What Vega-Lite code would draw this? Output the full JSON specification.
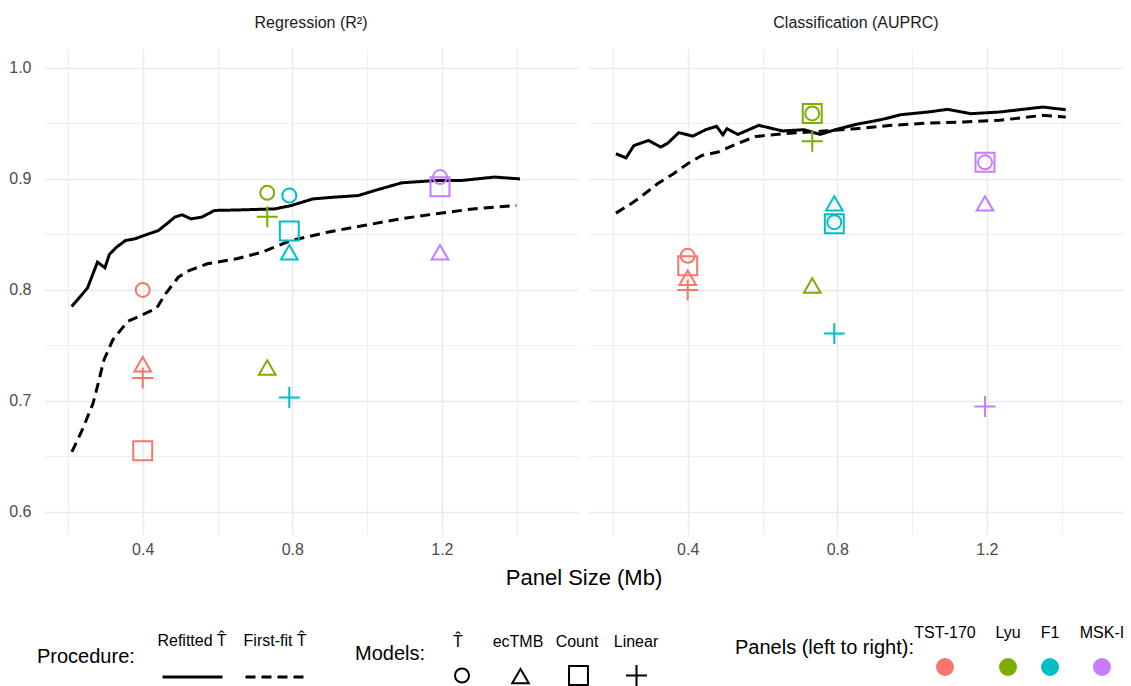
{
  "$schema": "https://vega.github.io/schema/vega-lite/v6.json",
  "padding": {"left": 8, "top": 15, "right": 8, "bottom": 2},
  "data": {"values": [
    {"task":"Regression (R²)","kind":"line","procedure":"Refitted T̂","x":0.21,"y":0.785},
    {"task":"Regression (R²)","kind":"line","procedure":"Refitted T̂","x":0.252,"y":0.8015},
    {"task":"Regression (R²)","kind":"line","procedure":"Refitted T̂","x":0.279,"y":0.825},
    {"task":"Regression (R²)","kind":"line","procedure":"Refitted T̂","x":0.299,"y":0.82},
    {"task":"Regression (R²)","kind":"line","procedure":"Refitted T̂","x":0.311,"y":0.832},
    {"task":"Regression (R²)","kind":"line","procedure":"Refitted T̂","x":0.33,"y":0.8385},
    {"task":"Regression (R²)","kind":"line","procedure":"Refitted T̂","x":0.354,"y":0.8445},
    {"task":"Regression (R²)","kind":"line","procedure":"Refitted T̂","x":0.379,"y":0.846},
    {"task":"Regression (R²)","kind":"line","procedure":"Refitted T̂","x":0.403,"y":0.849},
    {"task":"Regression (R²)","kind":"line","procedure":"Refitted T̂","x":0.442,"y":0.8535},
    {"task":"Regression (R²)","kind":"line","procedure":"Refitted T̂","x":0.466,"y":0.86},
    {"task":"Regression (R²)","kind":"line","procedure":"Refitted T̂","x":0.486,"y":0.8656},
    {"task":"Regression (R²)","kind":"line","procedure":"Refitted T̂","x":0.505,"y":0.8677},
    {"task":"Regression (R²)","kind":"line","procedure":"Refitted T̂","x":0.529,"y":0.864},
    {"task":"Regression (R²)","kind":"line","procedure":"Refitted T̂","x":0.558,"y":0.8656},
    {"task":"Regression (R²)","kind":"line","procedure":"Refitted T̂","x":0.592,"y":0.8716},
    {"task":"Regression (R²)","kind":"line","procedure":"Refitted T̂","x":0.651,"y":0.872},
    {"task":"Regression (R²)","kind":"line","procedure":"Refitted T̂","x":0.753,"y":0.873},
    {"task":"Regression (R²)","kind":"line","procedure":"Refitted T̂","x":0.797,"y":0.876},
    {"task":"Regression (R²)","kind":"line","procedure":"Refitted T̂","x":0.855,"y":0.882},
    {"task":"Regression (R²)","kind":"line","procedure":"Refitted T̂","x":0.913,"y":0.8836},
    {"task":"Regression (R²)","kind":"line","procedure":"Refitted T̂","x":0.976,"y":0.885},
    {"task":"Regression (R²)","kind":"line","procedure":"Refitted T̂","x":1.03,"y":0.8905},
    {"task":"Regression (R²)","kind":"line","procedure":"Refitted T̂","x":1.093,"y":0.8965},
    {"task":"Regression (R²)","kind":"line","procedure":"Refitted T̂","x":1.185,"y":0.8986},
    {"task":"Regression (R²)","kind":"line","procedure":"Refitted T̂","x":1.253,"y":0.8986},
    {"task":"Regression (R²)","kind":"line","procedure":"Refitted T̂","x":1.341,"y":0.9017},
    {"task":"Regression (R²)","kind":"line","procedure":"Refitted T̂","x":1.409,"y":0.9},
    {"task":"Regression (R²)","kind":"line","procedure":"First-fit T̂","x":0.2105,"y":0.654},
    {"task":"Regression (R²)","kind":"line","procedure":"First-fit T̂","x":0.238,"y":0.6735},
    {"task":"Regression (R²)","kind":"line","procedure":"First-fit T̂","x":0.267,"y":0.6976},
    {"task":"Regression (R²)","kind":"line","procedure":"First-fit T̂","x":0.281,"y":0.7157},
    {"task":"Regression (R²)","kind":"line","procedure":"First-fit T̂","x":0.296,"y":0.7367},
    {"task":"Regression (R²)","kind":"line","procedure":"First-fit T̂","x":0.32,"y":0.755},
    {"task":"Regression (R²)","kind":"line","procedure":"First-fit T̂","x":0.359,"y":0.7714},
    {"task":"Regression (R²)","kind":"line","procedure":"First-fit T̂","x":0.398,"y":0.7774},
    {"task":"Regression (R²)","kind":"line","procedure":"First-fit T̂","x":0.437,"y":0.7834},
    {"task":"Regression (R²)","kind":"line","procedure":"First-fit T̂","x":0.461,"y":0.7964},
    {"task":"Regression (R²)","kind":"line","procedure":"First-fit T̂","x":0.495,"y":0.8114},
    {"task":"Regression (R²)","kind":"line","procedure":"First-fit T̂","x":0.524,"y":0.8174},
    {"task":"Regression (R²)","kind":"line","procedure":"First-fit T̂","x":0.573,"y":0.8235},
    {"task":"Regression (R²)","kind":"line","procedure":"First-fit T̂","x":0.651,"y":0.828},
    {"task":"Regression (R²)","kind":"line","procedure":"First-fit T̂","x":0.719,"y":0.834},
    {"task":"Regression (R²)","kind":"line","procedure":"First-fit T̂","x":0.797,"y":0.8445},
    {"task":"Regression (R²)","kind":"line","procedure":"First-fit T̂","x":0.894,"y":0.852},
    {"task":"Regression (R²)","kind":"line","procedure":"First-fit T̂","x":0.991,"y":0.858},
    {"task":"Regression (R²)","kind":"line","procedure":"First-fit T̂","x":1.088,"y":0.864},
    {"task":"Regression (R²)","kind":"line","procedure":"First-fit T̂","x":1.185,"y":0.8686},
    {"task":"Regression (R²)","kind":"line","procedure":"First-fit T̂","x":1.283,"y":0.873},
    {"task":"Regression (R²)","kind":"line","procedure":"First-fit T̂","x":1.399,"y":0.876},
    {"task":"Classification (AUPRC)","kind":"line","procedure":"Refitted T̂","x":0.208,"y":0.9227},
    {"task":"Classification (AUPRC)","kind":"line","procedure":"Refitted T̂","x":0.235,"y":0.919},
    {"task":"Classification (AUPRC)","kind":"line","procedure":"Refitted T̂","x":0.256,"y":0.93},
    {"task":"Classification (AUPRC)","kind":"line","procedure":"Refitted T̂","x":0.295,"y":0.9347},
    {"task":"Classification (AUPRC)","kind":"line","procedure":"Refitted T̂","x":0.328,"y":0.9287},
    {"task":"Classification (AUPRC)","kind":"line","procedure":"Refitted T̂","x":0.347,"y":0.9323},
    {"task":"Classification (AUPRC)","kind":"line","procedure":"Refitted T̂","x":0.376,"y":0.9417},
    {"task":"Classification (AUPRC)","kind":"line","procedure":"Refitted T̂","x":0.414,"y":0.9386},
    {"task":"Classification (AUPRC)","kind":"line","procedure":"Refitted T̂","x":0.448,"y":0.9444},
    {"task":"Classification (AUPRC)","kind":"line","procedure":"Refitted T̂","x":0.477,"y":0.9474},
    {"task":"Classification (AUPRC)","kind":"line","procedure":"Refitted T̂","x":0.494,"y":0.9398},
    {"task":"Classification (AUPRC)","kind":"line","procedure":"Refitted T̂","x":0.505,"y":0.9453},
    {"task":"Classification (AUPRC)","kind":"line","procedure":"Refitted T̂","x":0.534,"y":0.9401},
    {"task":"Classification (AUPRC)","kind":"line","procedure":"Refitted T̂","x":0.59,"y":0.9483},
    {"task":"Classification (AUPRC)","kind":"line","procedure":"Refitted T̂","x":0.654,"y":0.9432},
    {"task":"Classification (AUPRC)","kind":"line","procedure":"Refitted T̂","x":0.711,"y":0.9444},
    {"task":"Classification (AUPRC)","kind":"line","procedure":"Refitted T̂","x":0.754,"y":0.9401},
    {"task":"Classification (AUPRC)","kind":"line","procedure":"Refitted T̂","x":0.798,"y":0.9447},
    {"task":"Classification (AUPRC)","kind":"line","procedure":"Refitted T̂","x":0.85,"y":0.9492},
    {"task":"Classification (AUPRC)","kind":"line","procedure":"Refitted T̂","x":0.917,"y":0.9534},
    {"task":"Classification (AUPRC)","kind":"line","procedure":"Refitted T̂","x":0.97,"y":0.9579},
    {"task":"Classification (AUPRC)","kind":"line","procedure":"Refitted T̂","x":1.042,"y":0.9603},
    {"task":"Classification (AUPRC)","kind":"line","procedure":"Refitted T̂","x":1.095,"y":0.9627},
    {"task":"Classification (AUPRC)","kind":"line","procedure":"Refitted T̂","x":1.157,"y":0.9588},
    {"task":"Classification (AUPRC)","kind":"line","procedure":"Refitted T̂","x":1.234,"y":0.9603},
    {"task":"Classification (AUPRC)","kind":"line","procedure":"Refitted T̂","x":1.349,"y":0.9648},
    {"task":"Classification (AUPRC)","kind":"line","procedure":"Refitted T̂","x":1.411,"y":0.9624},
    {"task":"Classification (AUPRC)","kind":"line","procedure":"First-fit T̂","x":0.208,"y":0.8692},
    {"task":"Classification (AUPRC)","kind":"line","procedure":"First-fit T̂","x":0.251,"y":0.8782},
    {"task":"Classification (AUPRC)","kind":"line","procedure":"First-fit T̂","x":0.285,"y":0.8866},
    {"task":"Classification (AUPRC)","kind":"line","procedure":"First-fit T̂","x":0.319,"y":0.8956},
    {"task":"Classification (AUPRC)","kind":"line","procedure":"First-fit T̂","x":0.362,"y":0.9047},
    {"task":"Classification (AUPRC)","kind":"line","procedure":"First-fit T̂","x":0.4,"y":0.9137},
    {"task":"Classification (AUPRC)","kind":"line","procedure":"First-fit T̂","x":0.438,"y":0.9212},
    {"task":"Classification (AUPRC)","kind":"line","procedure":"First-fit T̂","x":0.481,"y":0.9242},
    {"task":"Classification (AUPRC)","kind":"line","procedure":"First-fit T̂","x":0.525,"y":0.9308},
    {"task":"Classification (AUPRC)","kind":"line","procedure":"First-fit T̂","x":0.582,"y":0.9383},
    {"task":"Classification (AUPRC)","kind":"line","procedure":"First-fit T̂","x":0.659,"y":0.9408},
    {"task":"Classification (AUPRC)","kind":"line","procedure":"First-fit T̂","x":0.754,"y":0.9429},
    {"task":"Classification (AUPRC)","kind":"line","procedure":"First-fit T̂","x":0.85,"y":0.9453},
    {"task":"Classification (AUPRC)","kind":"line","procedure":"First-fit T̂","x":0.946,"y":0.9483},
    {"task":"Classification (AUPRC)","kind":"line","procedure":"First-fit T̂","x":1.042,"y":0.9504},
    {"task":"Classification (AUPRC)","kind":"line","procedure":"First-fit T̂","x":1.138,"y":0.9513},
    {"task":"Classification (AUPRC)","kind":"line","procedure":"First-fit T̂","x":1.234,"y":0.9528},
    {"task":"Classification (AUPRC)","kind":"line","procedure":"First-fit T̂","x":1.349,"y":0.9573},
    {"task":"Classification (AUPRC)","kind":"line","procedure":"First-fit T̂","x":1.411,"y":0.9558},
    {"task":"Regression (R²)","kind":"point","panel":"TST-170","model":"T̂","x":0.4,"y":0.8},
    {"task":"Regression (R²)","kind":"point","panel":"TST-170","model":"ecTMB","x":0.4,"y":0.733},
    {"task":"Regression (R²)","kind":"point","panel":"TST-170","model":"Linear","x":0.4,"y":0.7205},
    {"task":"Regression (R²)","kind":"point","panel":"TST-170","model":"Count","x":0.4,"y":0.655},
    {"task":"Regression (R²)","kind":"point","panel":"Lyu","model":"T̂","x":0.733,"y":0.8875},
    {"task":"Regression (R²)","kind":"point","panel":"Lyu","model":"Linear","x":0.733,"y":0.866},
    {"task":"Regression (R²)","kind":"point","panel":"Lyu","model":"ecTMB","x":0.733,"y":0.73},
    {"task":"Regression (R²)","kind":"point","panel":"F1","model":"T̂","x":0.792,"y":0.885},
    {"task":"Regression (R²)","kind":"point","panel":"F1","model":"Count","x":0.792,"y":0.853},
    {"task":"Regression (R²)","kind":"point","panel":"F1","model":"ecTMB","x":0.792,"y":0.834},
    {"task":"Regression (R²)","kind":"point","panel":"F1","model":"Linear","x":0.792,"y":0.703},
    {"task":"Regression (R²)","kind":"point","panel":"MSK-I","model":"T̂","x":1.195,"y":0.9017},
    {"task":"Regression (R²)","kind":"point","panel":"MSK-I","model":"Count","x":1.195,"y":0.893},
    {"task":"Regression (R²)","kind":"point","panel":"MSK-I","model":"ecTMB","x":1.195,"y":0.834},
    {"task":"Classification (AUPRC)","kind":"point","panel":"TST-170","model":"T̂","x":0.4,"y":0.8307},
    {"task":"Classification (AUPRC)","kind":"point","panel":"TST-170","model":"Count","x":0.4,"y":0.8217},
    {"task":"Classification (AUPRC)","kind":"point","panel":"TST-170","model":"ecTMB","x":0.4,"y":0.811},
    {"task":"Classification (AUPRC)","kind":"point","panel":"TST-170","model":"Linear","x":0.4,"y":0.8},
    {"task":"Classification (AUPRC)","kind":"point","panel":"Lyu","model":"T̂","x":0.733,"y":0.959},
    {"task":"Classification (AUPRC)","kind":"point","panel":"Lyu","model":"Count","x":0.733,"y":0.959},
    {"task":"Classification (AUPRC)","kind":"point","panel":"Lyu","model":"Linear","x":0.733,"y":0.934},
    {"task":"Classification (AUPRC)","kind":"point","panel":"Lyu","model":"ecTMB","x":0.733,"y":0.804},
    {"task":"Classification (AUPRC)","kind":"point","panel":"F1","model":"ecTMB","x":0.792,"y":0.878},
    {"task":"Classification (AUPRC)","kind":"point","panel":"F1","model":"Count","x":0.792,"y":0.8596},
    {"task":"Classification (AUPRC)","kind":"point","panel":"F1","model":"T̂","x":0.792,"y":0.861},
    {"task":"Classification (AUPRC)","kind":"point","panel":"F1","model":"Linear","x":0.792,"y":0.7608},
    {"task":"Classification (AUPRC)","kind":"point","panel":"MSK-I","model":"Count","x":1.195,"y":0.915},
    {"task":"Classification (AUPRC)","kind":"point","panel":"MSK-I","model":"T̂","x":1.195,"y":0.915},
    {"task":"Classification (AUPRC)","kind":"point","panel":"MSK-I","model":"ecTMB","x":1.195,"y":0.878},
    {"task":"Classification (AUPRC)","kind":"point","panel":"MSK-I","model":"Linear","x":1.195,"y":0.695}
  ]},
  "facet": {
    "column": {
      "field": "task",
      "type": "nominal",
      "sort": ["Regression (R²)", "Classification (AUPRC)"],
      "header": {
        "title": "Panel Size (Mb)",
        "titleOrient": "bottom",
        "titleFontSize": 22,
        "titleFontWeight": "normal",
        "titleColor": "#000000",
        "titlePadding": 1,
        "labelFontSize": 16,
        "labelColor": "#1a1a1a",
        "labelPadding": 17
      }
    }
  },
  "spacing": 11,
  "spec": {
    "width": 534,
    "height": 486,
    "layer": [
      {
        "transform": [{"filter": "datum.kind == 'line'"}],
        "mark": {"type": "line", "color": "black", "strokeWidth": 3, "strokeCap": "butt"},
        "encoding": {
          "x": {"field": "x", "type": "quantitative", "scale": {"domain": [0.136, 1.564], "nice": false, "zero": false},
            "axis": {"title": null, "values": [0.2, 0.4, 0.6, 0.8, 1.0, 1.2, 1.4],
              "labelExpr": "round(datum.value*10) % 4 == 0 ? format(datum.value, '.1f') : ''",
              "gridWidth": {"condition": {"test": "round(datum.value*10) % 4 == 0", "value": 1.6}, "value": 0.8}}},
          "y": {"field": "y", "type": "quantitative", "scale": {"domain": [0.58, 1.018], "nice": false, "zero": false},
            "axis": {"title": null, "values": [0.6, 0.65, 0.7, 0.75, 0.8, 0.85, 0.9, 0.95, 1.0],
              "labelExpr": "round(datum.value*100) % 10 == 0 ? format(datum.value, '.1f') : ''",
              "labelPadding": 13,
              "gridWidth": {"condition": {"test": "round(datum.value*100) % 10 == 0", "value": 1.6}, "value": 0.8}}},
          "strokeDash": {"field": "procedure", "type": "nominal",
            "scale": {"domain": ["Refitted T̂", "First-fit T̂"], "range": [[1, 0], [10, 6]]},
            "legend": {"title": "Procedure:", "orient": "none", "legendX": -7, "legendY": 619,
              "direction": "horizontal", "titleOrient": "left", "titleAnchor": "start", "titleBaseline": "bottom", "titlePadding": 26,
              "symbolType": "stroke", "symbolSize": 3600, "symbolStrokeWidth": 3, "symbolStrokeColor": "black",
              "clipHeight": 20,
              "labelAlign": "center", "labelOffset": -32, "columnPadding": 16,
              "encode": {"labels": {"update": {"dy": {"value": -36}}}}}}
        }
      },
      {
        "transform": [{"filter": "datum.kind == 'point'"}],
        "mark": {"type": "point", "filled": false, "strokeWidth": 2, "opacity": 1},
        "encoding": {
          "x": {"field": "x", "type": "quantitative"},
          "y": {"field": "y", "type": "quantitative"},
          "color": {"field": "panel", "type": "nominal",
            "scale": {"domain": ["TST-170", "Lyu", "F1", "MSK-I"], "range": ["#F8766D", "#7CAE00", "#00BFC4", "#C77CFF"]},
            "legend": {"title": "Panels (left to right):", "orient": "none", "legendX": 691, "legendY": 610,
              "direction": "horizontal", "titleOrient": "left", "titleAnchor": "start", "titleBaseline": "bottom", "titlePadding": 22,
              "symbolType": "circle", "symbolSize": 81, "symbolStrokeWidth": 9,
              "clipHeight": 18,
              "labelAlign": "center", "labelBaseline": "line-bottom", "labelOffset": -9, "columnPadding": 19}},
          "shape": {"field": "model", "type": "nominal",
            "scale": {"domain": ["T̂", "ecTMB", "Count", "Linear"], "range": ["circle", "triangle-up", "square", "M-1,0H1M0,-1V1"]},
            "legend": {"title": "Models:", "orient": "none", "legendX": 311, "legendY": 616,
              "direction": "horizontal", "titleOrient": "left", "titleAnchor": "start", "titleBaseline": "bottom", "titlePadding": 28,
              "symbolStrokeWidth": 2, "symbolStrokeColor": "black",
              "gridAlign": "all",
              "labelAlign": "center", "labelBaseline": "line-bottom", "labelOffset": -12, "columnPadding": 4}},
          "size": {"field": "model", "type": "nominal",
            "scale": {"domain": ["T̂", "ecTMB", "Count", "Linear"], "range": [196, 441, 225, 484]},
            "legend": {"title": "Models:", "orient": "none", "legendX": 311, "legendY": 616,
              "direction": "horizontal", "titleOrient": "left", "titleAnchor": "start", "titleBaseline": "bottom", "titlePadding": 28,
              "symbolStrokeWidth": 2, "symbolStrokeColor": "black",
              "gridAlign": "all",
              "labelAlign": "center", "labelBaseline": "line-bottom", "labelOffset": -12, "columnPadding": 4}}
        }
      }
    ]
  },
  "config": {
    "font": "Liberation Sans",
    "view": {"stroke": null},
    "style": {"guide-label": {"lineHeight": 68}},
    "axis": {"grid": true, "gridColor": "#ebebeb", "ticks": false, "domain": false,
      "labelFontSize": 16, "labelColor": "#4d4d4d", "labelPadding": 7},
    "legend": {"titleFontSize": 20, "titleFontWeight": "normal", "titleColor": "#000000",
      "labelFontSize": 16, "labelColor": "#000000", "padding": 0, "titleLimit": 400, "labelLimit": 200}
  }
}
